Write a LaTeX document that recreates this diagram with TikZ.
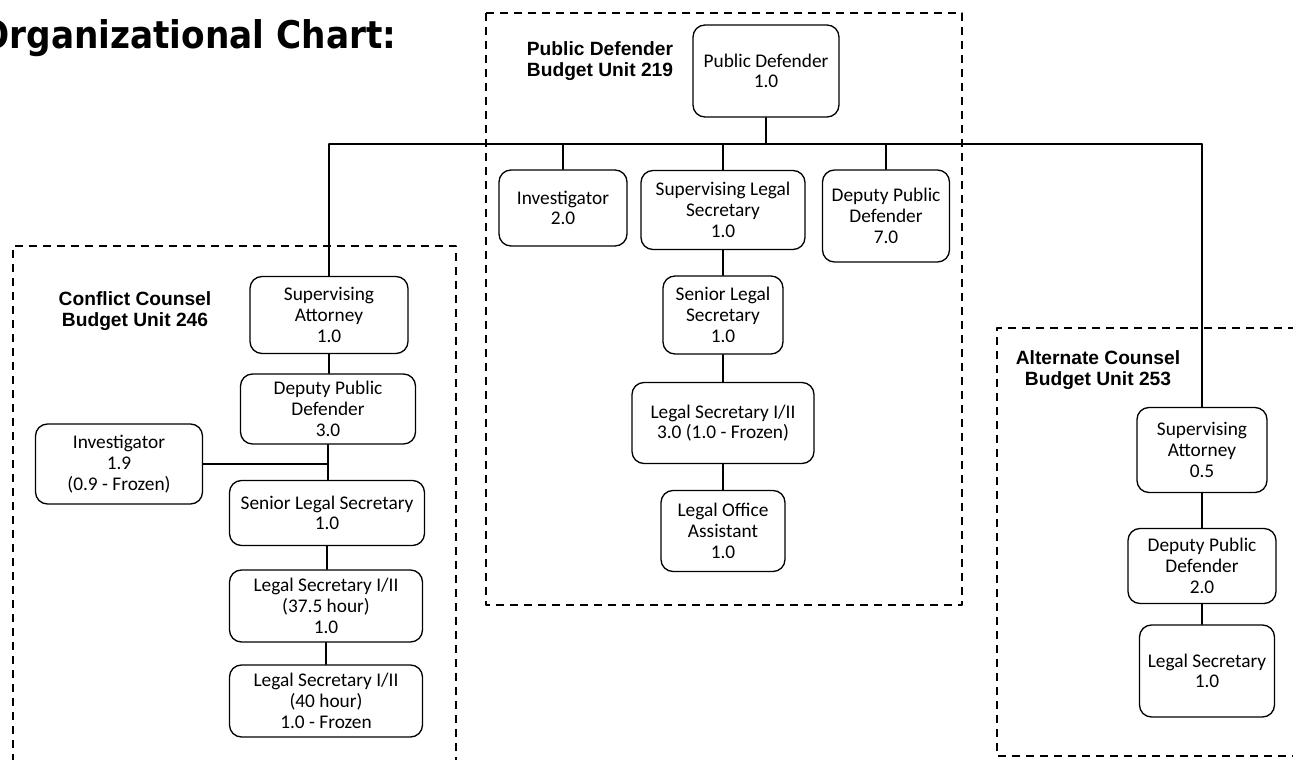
\documentclass[tikz,border=0pt]{standalone}
\usepackage{fontspec}
\setmainfont{Carlito}
\newfontfamily\hdfont{Liberation Sans}
\newfontfamily\titlefont{DejaVu Sans Condensed}
\begin{document}
\begin{tikzpicture}[x=0.75pt,y=-0.75pt,line join=round,line cap=round,font=\fontsize{14.5}{15.5}\selectfont,
	post/.style 2 args={draw,line width=1pt,rounded corners=9pt,align=center,inner sep=1pt,minimum width=#1*0.75pt,minimum height=#2*0.75pt},
	unit/.style={align=center,font=\hdfont\bfseries\fontsize{14.4}{15.75}\selectfont},
	link/.style={line width=0.9pt},
	zone/.style={line width=0.9pt,line cap=butt,dash pattern=on 6pt off 4.5pt}]
	\useasboundingbox (0,0) rectangle (1293,760);
	\draw[zone] (486,13) rectangle (962,605); % Khung nét đứt của từng đơn vị
	\draw[zone] (13,790) -- (13,246) -- (456,246) -- (456,790);
	\draw[zone] (1310,328) -- (997,328) -- (997,756) -- (1310,756);
	\node[font=\titlefont\bfseries\fontsize{28.6}{30}\selectfont,anchor=base east] (title) at (401,48) {Organizational Chart:};
	\node[unit] (pdu) at (600,61) {Public Defender\\Budget Unit 219};
	\node[unit] (ccu) at (135,311) {Conflict Counsel\\Budget Unit 246};
	\node[unit] (acu) at (1098,370) {Alternate Counsel\\Budget Unit 253};
	% Public Defender
	\node[post={146}{92}] (pd) at (766,71) {Public Defender\\1.0};
	\node[post={128}{76}] (pdinv) at (563,208) {Investigator\\2.0};
	\node[post={164}{79}] (pdsls) at (723,210) {Supervising Legal\\Secretary\\1.0};
	\node[post={127}{92}] (pddpd) at (886,216) {Deputy Public\\Defender\\7.0};
	\node[post={120}{78}] (pdsen) at (723,315) {Senior Legal\\Secretary\\1.0};
	\node[post={182}{81}] (pdls) at (723,423) {Legal Secretary I/II\\3.0 (1.0 - Frozen)};
	\node[post={124}{81}] (pdloa) at (723,531) {Legal Office\\Assistant\\1.0};
	% Conflict Counsel
	\node[post={158}{77}] (ccsa) at (329,315) {Supervising\\Attorney\\1.0};
	\node[post={175}{70}] (ccdpd) at (328,409) {Deputy Public\\Defender\\3.0};
	\node[post={167}{80}] (ccinv) at (119,464) {Investigator\\1.9\\(0.9 - Frozen)};
	\node[post={195}{65}] (ccsen) at (327,513) {Senior Legal Secretary\\1.0};
	\node[post={193}{72}] (ccls) at (326,606) {Legal Secretary I/II\\(37.5 hour)\\1.0};
	\node[post={193}{72}] (cclsf) at (326,701) {Legal Secretary I/II\\(40 hour)\\1.0 - Frozen};
	% Alternate Counsel
	\node[post={130}{85}] (acsa) at (1202,450) {Supervising\\Attorney\\0.5};
	\node[post={148}{75}] (acdpd) at (1202,566) {Deputy Public\\Defender\\2.0};
	\node[post={135}{92}] (acls) at (1207,671) {Legal Secretary\\1.0};
	% Đường nối
	\coordinate (busL) at (329,144);
	\coordinate (busR) at (1202,144);
	\draw[link] (busL) -- (busR); % Đường ngang chung
	\draw[link] (pd.south) -- (pd.south|-busL);
	\foreach \n in {pdinv,pdsls,pddpd} \draw[link] (\n.north) -- (\n.north|-busL);
	\draw[link] (busL) -- (busL|-ccsa.north);
	\draw[link] (busR) -- (busR|-acsa.north);
	\foreach \a/\b in {pdsls/pdsen,pdsen/pdls,pdls/pdloa,ccsa/ccdpd,ccdpd/ccsen,ccsen/ccls,ccls/cclsf,acsa/acdpd,acdpd/acls}
		\draw[link] (\a.south) -- (\a.south|-\b.north);
	\draw[link] (ccinv.east) -- (ccinv.east-|ccdpd.south);
\end{tikzpicture}
\end{document}
